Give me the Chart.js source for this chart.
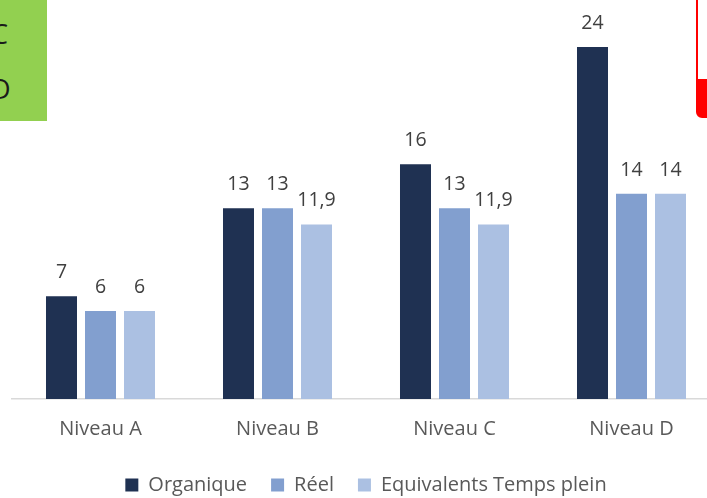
<!DOCTYPE html>
<html>
<head>
<meta charset="utf-8">
<script src="https://cdn.jsdelivr.net/npm/chart.js@4.4.1/dist/chart.umd.min.js"></script>
<style>
  html, body { margin: 0; padding: 0; background: #ffffff; overflow: hidden; width: 707px; height: 498px; }
  #wrap { position: relative; width: 707px; height: 498px; overflow: hidden; }
  #c { position: absolute; left: 0; top: 0; }
  .green { position: absolute; left: 0; top: 0; width: 47px; height: 121px; background: #92d050; overflow: hidden; }
  .green span { position: absolute; font-family: "Open Sans", sans-serif; font-size: 27px; color: #1a1a1a; line-height: 1; }
  .red { position: absolute; left: 696px; top: -10px; width: 30px; height: 128px; border: 2px solid #ff0000; border-radius: 6px;
         background: linear-gradient(to bottom, #ffffff 0px, #ffffff 87px, #ff0000 87px, #ff0000 100%); box-sizing: border-box; }
</style>
</head>
<body>
<div id="wrap">
  <canvas id="c" width="730" height="498"></canvas>
  <div class="green"><span style="left:-9px; top:20px;">C</span><span style="left:-9px; top:75px;">D</span></div>
  <div class="red"></div>
</div>
<script>
const categories = ["Niveau A", "Niveau B", "Niveau C", "Niveau D"];
const organique = [7, 13, 16, 24];
const reel = [6, 13, 13, 14];
const etp = [6, 11.9, 11.9, 14];
const seriesNames = ["Organique", "Réel", "Equivalents Temps plein"];
const seriesColors = ["#1f3152", "#829fcf", "#abc0e2"];

const valueLabels = {
  id: "valueLabels",
  afterDatasetsDraw(chart) {
    const ctx = chart.ctx;
    ctx.save();
    ctx.font = "19.5px 'Open Sans', sans-serif";
    ctx.fillStyle = "#404040";
    ctx.textAlign = "center";
    ctx.textBaseline = "alphabetic";
    chart.data.datasets.forEach((ds, i) => {
      const meta = chart.getDatasetMeta(i);
      meta.data.forEach((bar, j) => {
        const v = ds.data[j];
        const txt = String(v).replace(".", ",");
        ctx.fillText(txt, bar.x, bar.y - 18);
      });
    });
    ctx.restore();
  }
};

new Chart(document.getElementById("c"), {
  type: "bar",
  data: {
    labels: categories,
    datasets: [
      { label: seriesNames[0], data: organique, backgroundColor: seriesColors[0] },
      { label: seriesNames[1], data: reel, backgroundColor: seriesColors[1] },
      { label: seriesNames[2], data: etp, backgroundColor: seriesColors[2] }
    ]
  },
  options: {
    responsive: false,
    animation: false,
    devicePixelRatio: 1,
    layout: { padding: { left: 12, right: 10, top: 3, bottom: -7 } },
    datasets: { bar: { categoryPercentage: 0.661, barPercentage: 0.795 } },
    scales: {
      x: {
        grid: { display: false },
        border: { display: true, color: "#d9d9d9", width: 1.5 },
        ticks: { color: "#595959", font: { family: "'Open Sans', sans-serif", size: 20, lineHeight: 1.0 }, padding: 12 }
      },
      y: { display: false, min: 0, max: 27 }
    },
    plugins: {
      legend: {
        position: "bottom",
        labels: { color: "#595959", font: { family: "'Open Sans', sans-serif", size: 20 }, boxWidth: 13, boxHeight: 13, padding: 24 }
      },
      tooltip: { enabled: false }
    }
  },
  plugins: [valueLabels]
});
</script>
</body>
</html>
